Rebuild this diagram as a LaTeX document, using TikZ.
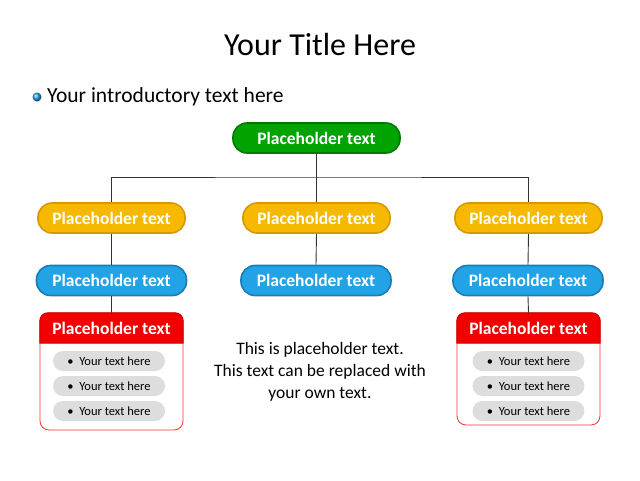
\documentclass[tikz,border=0pt]{standalone}
\usepackage{fontspec}
\setmainfont{Carlito}
\usetikzlibrary{positioning}

\definecolor{grnfill}{HTML}{00A300}
\definecolor{grnline}{HTML}{007A00}
\definecolor{ylwfill}{HTML}{F7B900}
\definecolor{ylwline}{HTML}{D69A00}
\definecolor{blufill}{HTML}{21A3E6}
\definecolor{bluline}{HTML}{1A7DB8}
\definecolor{redfill}{HTML}{F20000}
\definecolor{redline}{HTML}{C80000}
\definecolor{itemgray}{HTML}{DDDDDD}

\tikzset{
    pill/.style={rounded corners=14pt, minimum width=147pt, minimum height=30pt,
        line width=1.6pt, text=white, inner sep=0pt,
        font=\bfseries\fontsize{17.5}{20}\selectfont},
    greenpill/.style={pill, fill=grnfill, draw=grnline, minimum width=167pt},
    yellowpill/.style={pill, fill=ylwfill, draw=ylwline},
    bluepill/.style={pill, fill=blufill, draw=bluline, minimum width=150pt},
    hdr/.style={minimum width=143pt, minimum height=30pt, inner sep=0pt},
    hdrtext/.style={text=white, font=\bfseries\fontsize{17.5}{20}\selectfont},
    redbody/.style={draw=redfill!80, fill=white, rounded corners=9pt,
        minimum width=143pt, line width=0.8pt},
    item/.style={fill=itemgray, rounded corners=10pt, minimum width=112pt,
        minimum height=20pt, inner sep=0pt, font=\fontsize{12.5}{14}\selectfont},
    conn/.style={draw=black!80, line width=0.9pt}
}

\begin{document}
\begin{tikzpicture}[x=1pt, y=-1pt]
    \useasboundingbox[fill=white] (0,0) rectangle (640,480);

    % Title and intro line
    \node[font=\fontsize{32}{36}\selectfont] (title) at (320,45) {Your Title Here};
    \shade[ball color=blufill] (37,97) circle (4.5pt);
    \node[anchor=west, font=\fontsize{21.5}{25}\selectfont, inner sep=0pt] (intro) at (47,97) {Your introductory text here};

    % Top node and first row
    \node[greenpill] (top) at (316.5,138) {Placeholder text};
    \node[yellowpill] (yl) at (111.5,218) {Placeholder text};
    \node[yellowpill] (ym) at (316.5,218) {Placeholder text};
    \node[yellowpill] (yr) at (528.5,218) {Placeholder text};

    % Second row
    \node[bluepill] (bl) at (111.5,280.5) {Placeholder text};
    \node[bluepill] (bm) at (316,280.5) {Placeholder text};
    \node[bluepill] (br) at (528,280.5) {Placeholder text};

    % Connectors
    \coordinate (bus) at (316.5,177);
    \draw[conn] (top.south) -- (bus);
    \draw[conn] (yl.north) |- (bus) -| (yr.north);
    \draw[conn] (bus) -- (ym.north);
    \draw[conn] (yl.south) -- (bl.north);
    \draw[conn] (ym.south) -- (bm.north);
    \draw[conn] (yr.south) -- (br.north);

    % Red boxes
    \node[redbody, minimum height=117pt] (boxl) at (111.5,371.5) {};
    \node[redbody, minimum height=112pt] (boxr) at (528.5,369) {};
    \node[hdr] (rl) at (111.5,328) {};
    \node[hdr] (rr) at (528.5,328) {};
    \foreach \h in {rl, rr} {
        \path[fill=redfill, draw=redline, line width=1pt]
            (\h.south west) [rounded corners=8pt] -- (\h.north west)
            -- (\h.north east) [sharp corners] -- (\h.south east) -- cycle;
    }
    \node[hdrtext] (rlt) at (rl) {Placeholder text};
    \node[hdrtext] (rrt) at (rr) {Placeholder text};
    \draw[conn] (bl.south) -- (rl.north);
    \draw[conn] (br.south) -- (rr.north);

    % Items
    \node[item] (l1) at (109,361) {\textbullet\ \ Your text here};
    \node[item] (l2) at (109,386) {\textbullet\ \ Your text here};
    \node[item] (l3) at (109,411) {\textbullet\ \ Your text here};
    \node[item] (r1) at (528.5,361) {\textbullet\ \ Your text here};
    \node[item] (r2) at (528.5,386) {\textbullet\ \ Your text here};
    \node[item] (r3) at (528.5,411) {\textbullet\ \ Your text here};

    % Middle text
    \node[align=center, font=\fontsize{17.5}{22}\selectfont] (note) at (320,372)
        {This is placeholder text.\\This text can be replaced with\\your own text.};
\end{tikzpicture}
\end{document}
